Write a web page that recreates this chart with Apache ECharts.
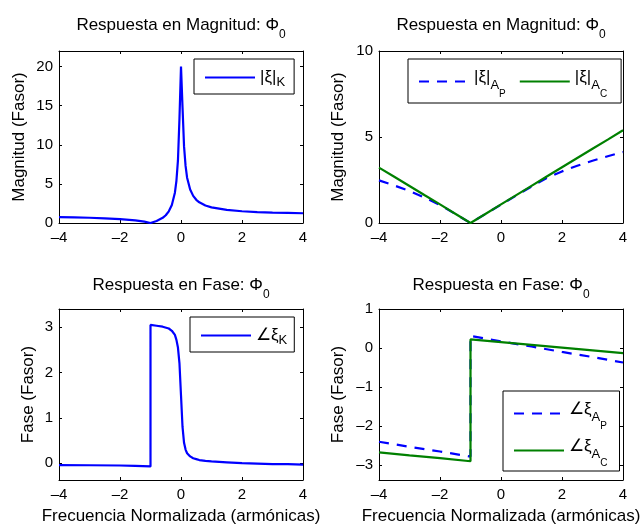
<!DOCTYPE html>
<html>
<head>
<meta charset="utf-8">
<script src="https://cdn.jsdelivr.net/npm/echarts@6/dist/echarts.min.js"></script>
<style>
  html, body { margin: 0; padding: 0; background: #fff; }
  #chart { width: 644px; height: 526px; }
</style>
</head>
<body>
<div id="chart"></div>
<script>
// ---- |ξ|_K magnitude and phase ----
const freqK = [-4, -3.5, -3, -2.5, -2, -1.5, -1.2, -1, -0.8, -0.6, -0.5, -0.4, -0.3, -0.2, -0.15, -0.1, -0.05, 0,
               0.05, 0.1, 0.15, 0.2, 0.3, 0.4, 0.5, 0.6, 0.8, 1, 1.5, 2, 2.5, 3, 3.5, 4];
const magK  = [0.75, 0.71, 0.67, 0.6, 0.5, 0.33, 0.17, 0.0, 0.25, 0.66, 0.99, 1.49, 2.3, 3.88, 5.4, 8.0, 13.4, 20,
               14.8, 9.8, 7.3, 5.8, 4.28, 3.47, 2.97, 2.65, 2.24, 2.0, 1.67, 1.5, 1.4, 1.33, 1.29, 1.25];

const freqPhK = [-4, -3, -2, -1.5, -1, -1, -0.8, -0.6, -0.4, -0.3, -0.2, -0.15, -0.1, -0.05, 0,
                 0.05, 0.1, 0.15, 0.2, 0.3, 0.4, 0.5, 0.6, 0.8, 1, 1.5, 2, 2.5, 3, 3.5, 4];
const phaseK  = [-0.04, -0.045, -0.05, -0.06, -0.07, 3.05, 3.03, 3.01, 2.97, 2.92, 2.83, 2.72, 2.55, 2.2, 1.5,
                 0.8, 0.45, 0.3, 0.22, 0.15, 0.11, 0.09, 0.07, 0.05, 0.04, 0.02, 0.0, -0.01, -0.02, -0.02, -0.03];

// ---- |ξ|_AP, |ξ|_AC magnitude ----
const freqA = [-4, -3.5, -3, -2.5, -2, -1.5, -1, -0.5, 0, 0.5, 1, 1.5, 2, 2.5, 3, 3.5, 4];
const magAP = [2.48, 2.18, 1.86, 1.47, 1.05, 0.53, 0, 0.53, 1.07, 1.6, 2.12, 2.62, 3.0, 3.33, 3.62, 3.88, 4.13];
const magAC = [3.22, 2.69, 2.15, 1.61, 1.08, 0.54, 0, 0.54, 1.08, 1.62, 2.16, 2.7, 3.24, 3.78, 4.32, 4.85, 5.39];

// ---- ∠ξ_AP, ∠ξ_AC phase (jump at -1) ----
const freqPhA = [-4, -3, -2, -1, -1, 0, 1, 2, 3, 4];
const phaseAP = [-2.40, -2.53, -2.65, -2.78, 0.31, 0.17, 0.04, -0.10, -0.23, -0.37];
const phaseAC = [-2.67, -2.75, -2.82, -2.90, 0.22, 0.15, 0.08, 0.01, -0.06, -0.13];

// ---- tick labels ----
const freqTicks = [-4, -2, 0, 2, 4];
const magKTicks = [0, 5, 10, 15, 20];
const magATicks = [0, 5, 10];
const phKTicks  = [0, 1, 2, 3];
const phATicks  = [-3, -2, -1, 0, 1];

const BLUE = '#0000ff';
const GREEN = '#008000';
const FONT = '"Liberation Sans", Arial, Helvetica, sans-serif';

const pairs = (xs, ys) => xs.map((x, i) => [x, ys[i]]);
const fmtNum = v => String(v).replace('-', '\u2013');

const grids = [
  { left: 59,  top: 51,  width: 244, height: 172 },
  { left: 379, top: 51,  width: 244, height: 172 },
  { left: 59,  top: 309, width: 244, height: 172.5 },
  { left: 379, top: 309, width: 244, height: 172.5 }
];

const yCfg = [
  { min: 0,     max: 22,  ticks: magKTicks, name: 'Magnitud (Fasor)', gap: 31 },
  { min: 0,     max: 10,  ticks: magATicks, name: 'Magnitud (Fasor)', gap: 32 },
  { min: -0.37, max: 3.4, ticks: phKTicks,  name: 'Fase (Fasor)',     gap: 22 },
  { min: -3.38, max: 1,   ticks: phATicks,  name: 'Fase (Fasor)',     gap: 32 }
];

const lineAxis = { show: true, onZero: false, lineStyle: { color: '#000', width: 1 } };
const labelStyle = { color: '#000', fontFamily: FONT, fontSize: 15 };
const nameStyle = { color: '#000', fontFamily: FONT, fontSize: 17 };

const xAxes = [];
const yAxes = [];
grids.forEach((g, i) => {
  const bottomRow = i >= 2;
  xAxes.push({
    gridIndex: i, type: 'value', position: 'bottom', min: -4, max: 4,
    axisLine: lineAxis,
    axisTick: { inside: true, length: 3, customValues: freqTicks, lineStyle: { color: '#000' } },
    axisLabel: { customValues: freqTicks, margin: 7, formatter: fmtNum, ...labelStyle },
    splitLine: { show: false },
    name: bottomRow ? 'Frecuencia Normalizada (armónicas)' : '',
    nameLocation: 'middle', nameGap: 28, nameTextStyle: nameStyle
  });
  xAxes.push({
    gridIndex: i, type: 'value', position: 'top', min: -4, max: 4,
    axisLine: lineAxis,
    axisTick: { inside: true, length: 3, customValues: freqTicks, lineStyle: { color: '#000' } },
    axisLabel: { show: false },
    splitLine: { show: false }
  });
  const c = yCfg[i];
  yAxes.push({
    gridIndex: i, type: 'value', position: 'left', min: c.min, max: c.max,
    axisLine: lineAxis,
    axisTick: { inside: true, length: 3, customValues: c.ticks, lineStyle: { color: '#000' } },
    axisLabel: { customValues: c.ticks, margin: 6, formatter: fmtNum, ...labelStyle },
    splitLine: { show: false },
    name: c.name, nameLocation: 'middle', nameGap: c.gap, nameRotate: 90, nameTextStyle: nameStyle
  });
  yAxes.push({
    gridIndex: i, type: 'value', position: 'right', min: c.min, max: c.max,
    axisLine: lineAxis,
    axisTick: { inside: true, length: 3, customValues: c.ticks, lineStyle: { color: '#000' } },
    axisLabel: { show: false },
    splitLine: { show: false }
  });
});

// rich text: every token top-aligned, subscripts pushed down with top padding
const txt = (size, padTop, lh) => ({
  fontFamily: FONT, fontSize: size, fontWeight: 'normal', color: '#000',
  lineHeight: lh, verticalAlign: 'top', padding: [padTop, 0, 0, 0]
});
const titleRich = { m: txt(17, 0, 26), s: txt(12, 12, 26) };
const mkTitle = (text, cx, top) => ({
  text, left: cx, top, textAlign: 'center', padding: 0,
  textStyle: { rich: titleRich, fontFamily: FONT, fontSize: 17, fontWeight: 'normal', color: '#000' }
});

const legendRich = {
  // two-level subscripts (A_P, A_C)
  m:  txt(17, 6, 37),
  s:  txt(13, 16, 37),
  ss: txt(10, 26, 37),
  // single subscript (K)
  m1: txt(17, 4, 25),
  k:  txt(13, 11, 25)
};
const legendText = {
  magK:  '{m1||ξ|}{k|K}',
  magAP: '{m||ξ|}{s|A}{ss|P}',
  magAC: '{m||ξ|}{s|A}{ss|C}',
  phK:   '{m1|∠ξ}{k|K}',
  phAP:  '{m|∠ξ}{s|A}{ss|P}',
  phAC:  '{m|∠ξ}{s|A}{ss|C}'
};
const mkLegend = (names, left, top, orient, padding, itemGap) => ({
  data: names, left, top, orient, padding, itemGap,
  itemWidth: 50, itemHeight: 14, itemTextGap: 4,
  borderColor: '#000', borderWidth: 1, borderRadius: 0, backgroundColor: '#fff',
  selectedMode: false,
  itemStyle: { opacity: 0 },
  formatter: n => legendText[n],
  textStyle: { rich: legendRich, fontFamily: FONT, fontSize: 17, color: '#000' }
});

const chart = echarts.init(document.getElementById('chart'), null, { renderer: 'canvas' });
chart.setOption({
  backgroundColor: '#fff',
  animation: false,
  title: [
    mkTitle('{m|Respuesta en Magnitud: Φ}{s|0}', 181, 17),
    mkTitle('{m|Respuesta en Magnitud: Φ}{s|0}', 501, 17),
    mkTitle('{m|Respuesta en Fase: Φ}{s|0}', 181, 277),
    mkTitle('{m|Respuesta en Fase: Φ}{s|0}', 501, 277)
  ],
  legend: [
    mkLegend(['magK'], 194, 59, 'horizontal', [6, 9, 5, 10], 10),
    mkLegend(['magAP', 'magAC'], 408, 59, 'horizontal', [4, 14, 4, 10], 13),
    mkLegend(['phK'], 190, 317, 'horizontal', [6, 7, 5, 10], 10),
    mkLegend(['phAP', 'phAC'], 503, 391, 'vertical', [4, 12, 3, 10], 1)
  ],
  grid: grids,
  xAxis: xAxes,
  yAxis: yAxes,
  series: [
    { name: 'magK', type: 'line', xAxisIndex: 0, yAxisIndex: 0, data: pairs(freqK, magK),
      showSymbol: false, symbol: 'none', lineStyle: { color: BLUE, width: 2.2 }, itemStyle: { color: BLUE } },
    { name: 'magAP', type: 'line', xAxisIndex: 2, yAxisIndex: 2, data: pairs(freqA, magAP),
      showSymbol: false, symbol: 'none', lineStyle: { color: BLUE, width: 2.2, type: [10, 8] }, itemStyle: { color: BLUE } },
    { name: 'magAC', type: 'line', xAxisIndex: 2, yAxisIndex: 2, data: pairs(freqA, magAC),
      showSymbol: false, symbol: 'none', lineStyle: { color: GREEN, width: 2.2 }, itemStyle: { color: GREEN } },
    { name: 'phK', type: 'line', xAxisIndex: 4, yAxisIndex: 4, data: pairs(freqPhK, phaseK),
      showSymbol: false, symbol: 'none', lineStyle: { color: BLUE, width: 2.2 }, itemStyle: { color: BLUE } },
    { name: 'phAP', type: 'line', xAxisIndex: 6, yAxisIndex: 6, data: pairs(freqPhA, phaseAP),
      showSymbol: false, symbol: 'none', lineStyle: { color: BLUE, width: 2.2, type: [10, 8] }, itemStyle: { color: BLUE } },
    { name: 'phAC', type: 'line', xAxisIndex: 6, yAxisIndex: 6, data: pairs(freqPhA, phaseAC),
      showSymbol: false, symbol: 'none', lineStyle: { color: GREEN, width: 2.2 }, itemStyle: { color: GREEN } }
  ]
});
</script>
</body>
</html>
